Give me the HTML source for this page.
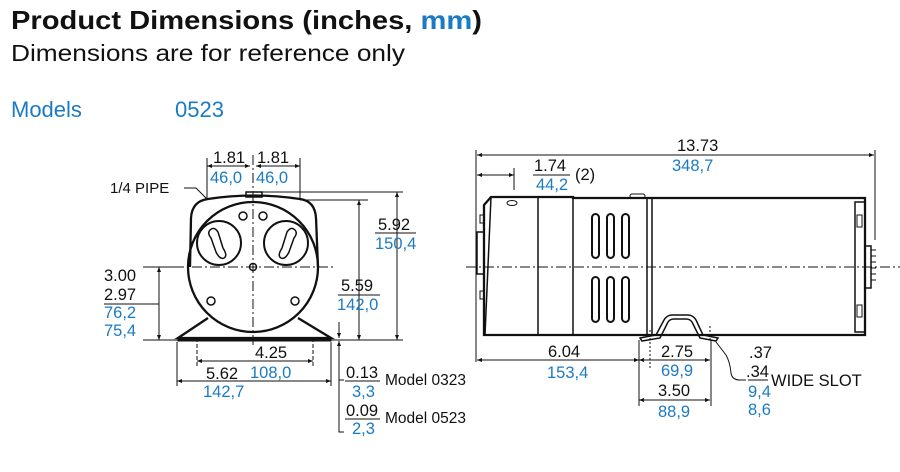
<!DOCTYPE html>
<html><head><meta charset="utf-8"><style>
html,body{margin:0;padding:0;background:#fff;width:900px;height:472px;overflow:hidden}
svg{display:block}
text{font-family:"Liberation Sans",Arial,sans-serif}
.b{fill:#1a7bc4}
.k{fill:#111}
</style></head><body>
<svg width="900" height="472" viewBox="0 0 900 472" xmlns="http://www.w3.org/2000/svg">
<defs>
<marker id="a" viewBox="0 0 10 10" refX="10" refY="5" markerWidth="7" markerHeight="5" orient="auto-start-reverse"><path d="M0,1 L10,5 L0,9z" fill="#111"/></marker>
</defs>
<text x="11" y="29" font-size="26" font-weight="bold" class="k" textLength="471" lengthAdjust="spacingAndGlyphs">Product Dimensions (inches, <tspan class="b">mm</tspan>)</text>
<text x="11" y="61" font-size="23" class="k" textLength="394" lengthAdjust="spacingAndGlyphs">Dimensions are for reference only</text>
<text x="11" y="117" font-size="22" class="b">Models</text>
<text x="175" y="117" font-size="22" class="b">0523</text>

<g stroke="#111" fill="none" stroke-width="1">
<!-- LEFT VIEW -->
<path d="M190,267 L191,218 Q192,201 208,199 Q253,192 300,199 Q315,201 316,218 L318,267" stroke-width="2.3"/>
<circle cx="253" cy="267" r="65" stroke-width="2.3"/>
<rect x="246" y="192" width="16" height="5" stroke-width="1.5"/>
<path d="M208,318 L178,338 L331,338 L298,318" stroke-width="2.3"/>
<rect x="178" y="338" width="153" height="3" fill="#111"/>
<circle cx="219" cy="243" r="22" stroke-width="2"/>
<circle cx="286" cy="243" r="22" stroke-width="2"/>
<path d="M210,230 Q214,226 218,232 L223,248 Q228,256 224,258 Q220,260 216,252 L211,238 Q207,233 210,230z" stroke-width="1.5"/>
<path d="M295,230 Q291,226 287,232 L282,248 Q277,256 281,258 Q285,260 289,252 L294,238 Q298,233 295,230z" stroke-width="1.5"/>
<circle cx="243" cy="216" r="4" stroke-width="1.5"/>
<circle cx="263" cy="216" r="4" stroke-width="1.5"/>
<circle cx="211" cy="301" r="4" stroke-width="1.5"/>
<circle cx="295" cy="301" r="4" stroke-width="1.5"/>
<circle cx="253" cy="267" r="3.5" stroke-width="1.5"/>
<line x1="174" y1="267" x2="336" y2="267" stroke-dasharray="10,3,2,3"/>
<line x1="253" y1="155" x2="253" y2="345" stroke-dasharray="10,3,2,3"/>
<line x1="207" y1="158" x2="207" y2="200"/>
<line x1="300" y1="158" x2="300" y2="200"/>
<line x1="207" y1="166" x2="250" y2="166" marker-start="url(#a)" marker-end="url(#a)"/>
<line x1="256" y1="166" x2="300" y2="166" marker-start="url(#a)" marker-end="url(#a)"/>
<path d="M184,188 L196,188 L207,199"/>
<line x1="262" y1="192" x2="403" y2="192"/>
<line x1="300" y1="200" x2="368" y2="200"/>
<line x1="331" y1="340" x2="403" y2="340"/>
<line x1="397" y1="192" x2="397" y2="340" marker-start="url(#a)" marker-end="url(#a)"/>
<line x1="359" y1="200" x2="359" y2="340" marker-start="url(#a)" marker-end="url(#a)"/>
<line x1="143" y1="267" x2="174" y2="267"/>
<line x1="143" y1="340" x2="178" y2="340"/>
<line x1="159" y1="267" x2="159" y2="340" marker-start="url(#a)" marker-end="url(#a)"/>
<line x1="104" y1="304" x2="159" y2="304"/>
<line x1="197" y1="338" x2="197" y2="366" stroke-dasharray="4,2"/>
<line x1="313" y1="338" x2="313" y2="366" stroke-dasharray="4,2"/>
<line x1="197" y1="361" x2="313" y2="361" marker-start="url(#a)" marker-end="url(#a)"/>
<line x1="177" y1="342" x2="177" y2="386"/>
<line x1="331" y1="342" x2="331" y2="386"/>
<line x1="177" y1="381" x2="331" y2="381" marker-start="url(#a)" marker-end="url(#a)"/>
<line x1="339" y1="322" x2="339" y2="338" marker-end="url(#a)"/>
<line x1="339" y1="358" x2="339" y2="341" marker-end="url(#a)"/>
<path d="M339,358 L339,432 L344,432 M339,380 L344,380"/>
<line x1="345" y1="381" x2="380" y2="381"/>
<line x1="345" y1="419" x2="380" y2="419"/>

<!-- RIGHT VIEW -->
<path d="M491,197 L573,197 L573,198 L865,198 L865,335 L484,335 L484,205z" stroke-width="2.3"/>
<line x1="491" y1="197" x2="485" y2="335" stroke-width="1.5"/>
<line x1="538" y1="197" x2="538" y2="335" stroke-width="1.5"/>
<line x1="573" y1="197" x2="573" y2="335" stroke-width="1.5"/>
<line x1="647" y1="198" x2="647" y2="335" stroke-width="1.5"/>
<line x1="652" y1="198" x2="652" y2="335" stroke-width="1.5"/>
<rect x="630" y="194" width="15" height="4" rx="2"/>
<ellipse cx="512" cy="203" rx="5" ry="2.5"/>
<rect x="477" y="232" width="7" height="42" stroke-width="1.5"/>
<rect x="480" y="215" width="4" height="8"/>
<rect x="480" y="291" width="4" height="8"/>
<g stroke-width="2">
<rect x="592" y="214" width="7" height="44" rx="3.5"/><rect x="607" y="214" width="7" height="44" rx="3.5"/><rect x="622" y="214" width="7" height="44" rx="3.5"/>
<rect x="592" y="277" width="7" height="45" rx="3.5"/><rect x="607" y="277" width="7" height="45" rx="3.5"/><rect x="622" y="277" width="7" height="45" rx="3.5"/>
</g>
<rect x="855" y="202" width="10" height="130" stroke-width="1.5"/>
<rect x="857" y="215" width="5" height="12"/><rect x="857" y="305" width="5" height="12"/>
<rect x="865" y="246" width="6" height="42" stroke-width="1.5"/>
<path d="M871,250 h5 M871,256 h5 M871,262 h5 M871,268 h5 M871,274 h5 M871,280 h5" />
<path d="M640,338 L656,335 L664,320 Q667,315 672,315 L688,315 Q693,315 696,320 L703,335 L718,338 L716,341 L700,338 L692,322 Q690,319 686,319 L674,319 Q670,319 668,322 L660,338 L642,341z" stroke-width="1.5"/>
<line x1="466" y1="267" x2="900" y2="267" stroke-dasharray="10,3,2,3"/>
<line x1="476" y1="150" x2="476" y2="362"/>
<line x1="875" y1="150" x2="875" y2="240"/>
<line x1="477" y1="155" x2="874" y2="155" marker-start="url(#a)" marker-end="url(#a)"/>
<line x1="477" y1="175" x2="514" y2="175" marker-start="url(#a)" marker-end="url(#a)"/>
<line x1="514" y1="168" x2="514" y2="190"/>
<line x1="477" y1="360" x2="639" y2="360" marker-start="url(#a)" marker-end="url(#a)"/>
<line x1="639" y1="360" x2="710" y2="360" marker-start="url(#a)" marker-end="url(#a)"/>
<line x1="639" y1="400" x2="710" y2="400" marker-start="url(#a)" marker-end="url(#a)"/>
<line x1="639" y1="340" x2="639" y2="406"/>
<line x1="711" y1="340" x2="711" y2="406"/>
<line x1="650" y1="330" x2="650" y2="368" stroke-dasharray="2,2"/>
<line x1="710" y1="326" x2="710" y2="340" stroke-dasharray="2,2"/>
<path d="M716,342 L726,355 Q730,362 731,373 Q732,380 740,380 L746,380"/>
<line x1="748" y1="380" x2="768" y2="380"/>
</g>

<g font-size="16.5">
<text x="213" y="163" class="k">1.81</text><text x="257" y="163" class="k">1.81</text>
<text x="210" y="183" class="b">46,0</text><text x="256" y="183" class="b">46,0</text>
<text x="110" y="193" class="k" font-size="15">1/4 PIPE</text>
<text x="378" y="230" class="k">5.92</text><line x1="375" y1="233" x2="416" y2="233" stroke="#111"/><text x="375" y="249" class="b">150,4</text>
<text x="341" y="291" class="k">5.59</text><line x1="338" y1="295" x2="380" y2="295" stroke="#111"/><text x="337" y="310" class="b">142,0</text>
<text x="104" y="281" class="k">3.00</text><text x="104" y="300" class="k">2.97</text>
<text x="104" y="318" class="b">76,2</text><text x="104" y="336" class="b">75,4</text>
<text x="255" y="358" class="k">4.25</text><text x="250" y="378" class="b">108,0</text>
<text x="206" y="379" class="k">5.62</text><text x="203" y="397" class="b">142,7</text>
<text x="346" y="378" class="k">0.13</text><text x="352" y="397" class="b">3,3</text>
<text x="385" y="385" class="k" font-size="15.5">Model 0323</text>
<text x="346" y="416" class="k">0.09</text><text x="352" y="434" class="b">2,3</text>
<text x="385" y="423" class="k" font-size="15.5">Model 0523</text>
<text x="677" y="151" class="k">13.73</text><text x="672" y="171" class="b">348,7</text>
<text x="534" y="171" class="k">1.74</text><line x1="533" y1="175" x2="570" y2="175" stroke="#111"/><text x="536" y="190" class="b">44,2</text>
<text x="575" y="180" class="k">(2)</text>
<text x="548" y="357" class="k">6.04</text><text x="547" y="378" class="b">153,4</text>
<text x="661" y="357" class="k">2.75</text><text x="661" y="376" class="b">69,9</text>
<text x="658" y="396" class="k">3.50</text><text x="658" y="417" class="b">88,9</text>
<text x="749" y="358" class="k">.37</text><text x="746" y="377" class="k">.34</text>
<text x="771" y="386" class="k">WIDE SLOT</text>
<text x="748" y="397" class="b">9,4</text><text x="748" y="415" class="b">8,6</text>
</g>
</svg>
</body></html>
